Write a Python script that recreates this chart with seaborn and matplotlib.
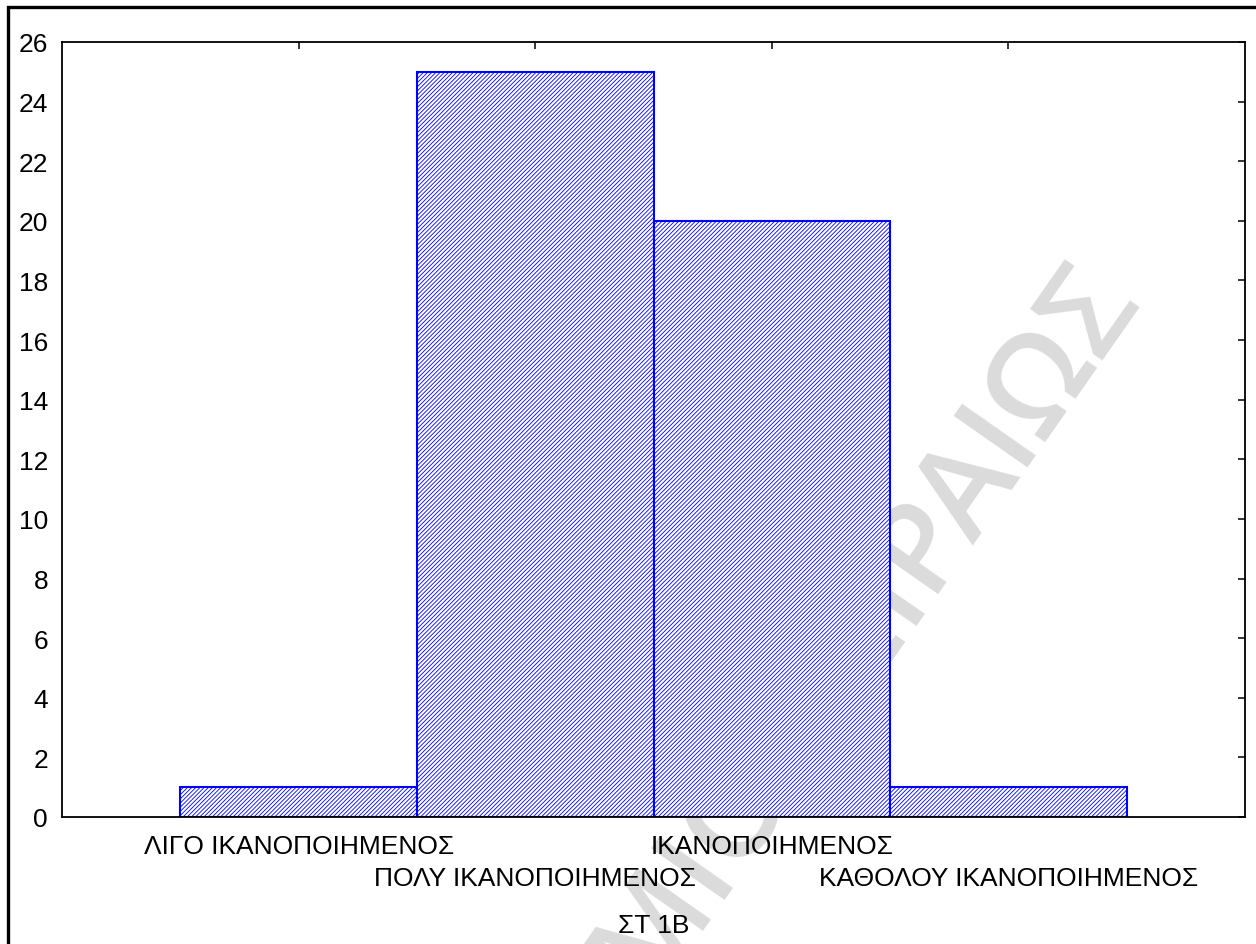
import matplotlib
matplotlib.use("Agg")
import numpy as np
import matplotlib.pyplot as plt
from matplotlib.patches import Rectangle
import seaborn as sns
import pandas as pd

# Frequency of answers for item ΣΤ 1Β
categories = ["ΛΙΓΟ ΙΚΑΝΟΠΟΙΗΜΕΝΟΣ", "ΠΟΛΥ ΙΚΑΝΟΠΟΙΗΜΕΝΟΣ",
              "ΙΚΑΝΟΠΟΙΗΜΕΝΟΣ", "ΚΑΘΟΛΟΥ ΙΚΑΝΟΠΟΙΗΜΕΝΟΣ"]
counts = [1, 25, 20, 1]
y_ticks = list(range(0, 27, 2))
x_label = "ΣΤ 1Β"
watermark = "ΠΑΝΕΠΙΣΤΗΜΙΟ ΠΕΙΡΑΙΩΣ"

sns.set_style("white")
plt.rcParams["font.family"] = ["Liberation Sans", "DejaVu Sans"]
plt.rcParams["text.color"] = "black"
plt.rcParams["hatch.color"] = "#0000ff"
plt.rcParams["hatch.linewidth"] = 0.6

df = pd.DataFrame({"answer": categories, "count": counts})

fig = plt.figure(figsize=(12.56, 9.45), dpi=100, facecolor="white")
W, H = 1256, 945
ax = fig.add_axes([62 / W, 1 - 818 / H, (1245 - 62) / W, (818 - 43) / H])
ax.set_facecolor("none")

sns.barplot(data=df, x="answer", y="count", order=categories, ax=ax,
            width=1.0, color="white", saturation=1, edgecolor="#0000ff",
            linewidth=1.5, hatch="////////", zorder=2)

ax.set_xlim(-1, 4)
ax.set_ylim(0, 26)
ax.set_yticks(y_ticks)
ax.set_yticklabels([str(v) for v in y_ticks])
ax.set_xticks(range(len(categories)))
ax.set_xticklabels(categories)
ax.set_ylabel("")

fs = 19
ax.tick_params(axis="both", direction="in", length=5, width=1.1,
               top=True, right=True, labelsize=fs, pad=10,
               color="black", labelcolor="black")
ax.tick_params(axis="x", pad=12.5)
# staggered category labels: every second one sits on a lower row
for i, t in enumerate(ax.xaxis.get_major_ticks()):
    if i % 2 == 1:
        t.set_pad(35)
ax.set_xlabel(x_label, fontsize=fs, labelpad=17, color="black")

for s in ax.spines.values():
    s.set_visible(True)
    s.set_color("black")
    s.set_linewidth(1.3)

# faint diagonal watermark behind the chart, placed so that the last
# "Ι" of the phrase sits at a chosen baseline point
wm_style = dict(fontsize=91, family="Open Sans", fontweight="semibold")
renderer = fig.canvas.get_renderer()


def text_width(s):
    t = fig.text(0, 0, s, **wm_style)
    w = t.get_window_extent(renderer).width
    t.remove()
    return w


angle = 55.0
d = np.array([np.cos(np.radians(angle)), np.sin(np.radians(angle))])
iota_base = np.array([1032.0, H - 461.0])  # pixel coords, origin bottom-left
tail = text_width("ΙΩΣ") - 0.5 * text_width("Ι")
end = iota_base + d * tail
fig.text(end[0] / W, end[1] / H, watermark, color="#dbdbdb",
         rotation=angle, rotation_mode="anchor", ha="right",
         va="baseline", zorder=-1, **wm_style)

# outer frame
fig.patches.append(Rectangle((7.5 / W, -0.05), 1.2, 1 - 8 / H + 0.05,
                             transform=fig.transFigure, fill=False,
                             edgecolor="black", linewidth=2.4, zorder=5))

fig.savefig("out.png", dpi=100, facecolor="white")
